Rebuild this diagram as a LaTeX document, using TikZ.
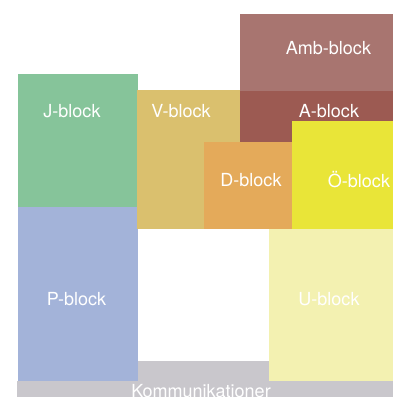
\documentclass[tikz,border=0pt]{standalone}
\usepackage{xcolor}
\usepackage{fontspec}
\setmainfont{TeX Gyre Heros}
\usepackage{tikz}
\usetikzlibrary{positioning}
\definecolor{ambred}{RGB}{168,117,112}
\definecolor{ared}{RGB}{156,90,82}
\definecolor{jgreen}{RGB}{134,196,154}
\definecolor{vgold}{RGB}{218,192,110}
\definecolor{dorange}{RGB}{228,170,90}
\definecolor{oyellow}{RGB}{233,229,56}
\definecolor{pblue}{RGB}{163,179,217}
\definecolor{upale}{RGB}{243,241,177}
\definecolor{komgray}{RGB}{201,199,204}
\tikzset{
  area/.style={draw=none},
  blocklabel/.style={text=white, font=\fontsize{18}{20}\selectfont, inner sep=0pt}
}

\begin{document}
\begin{tikzpicture}[x=1pt, y=-1pt]
  \clip (0,0) rectangle (393,397);
  \fill[white] (0,0) rectangle (393,397);

  % upper right blocks
  \fill[area, ambred] (240,14) rectangle (393,91);
  \fill[area, ared] (240,91) rectangle (393,142);
  \node[blocklabel] (amb) at (328.5,48) {Amb-block};
  \node[blocklabel] (a) at (329,111) {A-block};

  % left column
  \fill[area, jgreen] (18,74) rectangle (138,207);
  \fill[area, pblue] (18,207) rectangle (138,381);
  \node[blocklabel] (j) at (72,111) {J-block};
  \node[blocklabel] (p) at (76.5,299.5) {P-block};

  % middle blocks
  \fill[area, vgold] (137,90) rectangle (240,229);
  \fill[area, dorange] (204,142) rectangle (292,229);
  \fill[area, oyellow] (292,121) rectangle (393,229);
  \node[blocklabel] (v) at (181,111) {V-block};
  \node[blocklabel] (d) at (251,180) {D-block};
  \node[blocklabel] (oe) at (359,180) {Ö-block};

  % lower right
  \fill[area, upale] (269,229) rectangle (393,381);
  \node[blocklabel] (u) at (329,299.5) {U-block};

  % communication bus
  \fill[area, komgray] (138,361) rectangle (269,381);
  \fill[area, komgray] (17,381) rectangle (393,397);
  \node[blocklabel] (kom) at (201,391) {Kommunikationer};
\end{tikzpicture}
\end{document}
